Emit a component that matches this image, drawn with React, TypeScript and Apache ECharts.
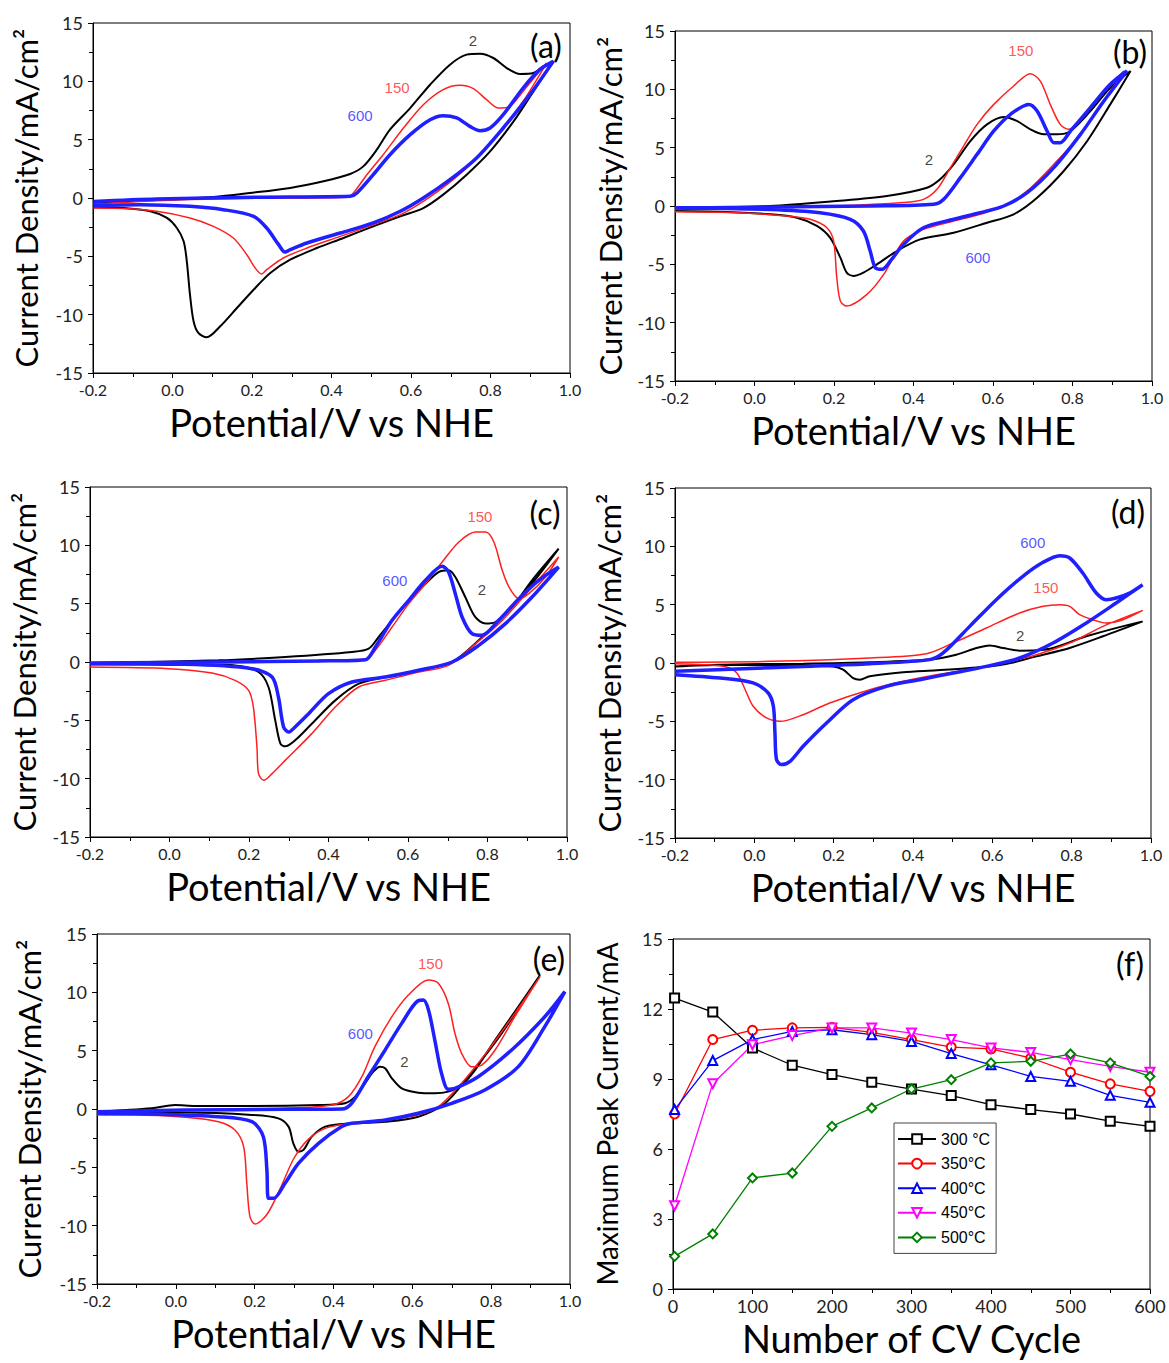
import React, { useEffect, useRef } from "react";
import * as echarts from "echarts";

// ---------- CV loops (potential V vs NHE, current density mA/cm2) ----------
// panel (a)
const a2: number[][] = [[-0.199,-0.43],[-0.04,-0.17],[0.103,0.09],[0.195,0.43],[0.296,0.86],[0.38,1.43],[0.447,2.06],[0.48,2.71],[0.514,4.14],[0.547,5.86],[0.598,7.71],[0.648,9.71],[0.698,11.43],[0.74,12.29],[0.774,12.37],[0.807,12.0],[0.841,11.14],[0.874,10.63],[0.908,10.71],[0.933,11.29],[0.958,11.71],
  [0.908,9.14],[0.858,6.57],[0.799,4.0],[0.74,2.0],[0.681,0.29],[0.631,-0.86],[0.573,-1.57],[0.505,-2.43],[0.43,-3.43],[0.363,-4.29],[0.296,-5.29],[0.246,-6.43],[0.204,-7.86],[0.162,-9.43],[0.12,-11.0],[0.086,-11.94],[0.065,-11.57],[0.053,-10.57],[0.044,-8.29],[0.036,-5.43],[0.028,-3.71],[0.011,-2.57],[-0.014,-1.71],[-0.056,-1.14],[-0.123,-0.86],[-0.199,-0.8]];
const a150: number[][] = [[-0.199,-0.51],[-0.04,-0.23],[0.128,-0.06],[0.296,0.0],[0.438,0.06],[0.455,0.43],[0.489,2.0],[0.53,3.71],[0.581,6.0],[0.631,8.0],[0.681,9.29],[0.723,9.66],[0.757,9.37],[0.79,8.43],[0.82,7.71],[0.849,7.86],[0.882,9.14],[0.916,10.57],[0.941,11.57],
  [0.882,8.29],[0.824,5.71],[0.757,3.14],[0.69,1.14],[0.631,-0.29],[0.573,-1.43],[0.505,-2.29],[0.422,-3.29],[0.338,-4.29],[0.279,-5.14],[0.237,-6.14],[0.224,-6.51],[0.208,-6.0],[0.187,-4.86],[0.153,-3.43],[0.103,-2.43],[0.044,-1.71],[-0.04,-1.14],[-0.123,-0.91],[-0.199,-0.86]];
const a600: number[][] = [[-0.199,-0.29],[-0.04,-0.09],[0.212,0.06],[0.447,0.14],[0.464,0.43],[0.505,2.0],[0.547,3.71],[0.598,5.43],[0.648,6.71],[0.681,7.06],[0.715,6.86],[0.748,6.14],[0.774,5.77],[0.799,6.0],[0.832,7.14],[0.882,9.43],[0.924,11.0],[0.958,11.71],
  [0.899,8.86],[0.832,6.0],[0.765,3.43],[0.698,1.57],[0.631,0.0],[0.573,-1.14],[0.505,-2.14],[0.422,-3.0],[0.338,-3.86],[0.296,-4.43],[0.283,-4.63],[0.267,-4.0],[0.237,-2.57],[0.204,-1.57],[0.128,-1.0],[0.044,-0.71],[-0.081,-0.57],[-0.199,-0.63]];
// panel (b)
const b2: number[][] = [[-0.2,-0.14],[0.039,0.0],[0.207,0.43],[0.333,0.86],[0.434,1.57],[0.467,2.29],[0.501,3.57],[0.543,5.57],[0.585,7.0],[0.627,7.63],[0.66,7.29],[0.694,6.57],[0.728,6.14],[0.761,6.14],[0.795,6.43],[0.845,8.14],[0.895,10.14],[0.946,11.57],
  [0.895,8.71],[0.837,5.57],[0.778,3.0],[0.711,0.71],[0.652,-0.71],[0.585,-1.43],[0.501,-2.29],[0.417,-2.86],[0.358,-3.86],[0.308,-5.0],[0.274,-5.71],[0.249,-6.0],[0.232,-5.71],[0.216,-4.43],[0.19,-2.71],[0.157,-1.71],[0.107,-1.0],[0.039,-0.71],[-0.086,-0.49],[-0.2,-0.43]];
const b150: number[][] = [[-0.2,-0.29],[0.039,-0.09],[0.207,0.0],[0.375,0.29],[0.425,0.57],[0.459,1.43],[0.493,3.29],[0.526,5.14],[0.56,7.0],[0.602,8.71],[0.652,10.29],[0.694,11.34],[0.719,10.71],[0.744,8.71],[0.769,7.0],[0.79,6.57],[0.811,7.0],[0.853,8.71],[0.904,10.71],[0.929,11.57],
  [0.879,9.0],[0.82,6.14],[0.753,3.57],[0.686,1.29],[0.627,0.0],[0.568,-0.71],[0.501,-1.29],[0.425,-2.0],[0.375,-3.0],[0.325,-5.86],[0.283,-7.57],[0.232,-8.57],[0.216,-8.14],[0.207,-6.14],[0.199,-3.0],[0.182,-1.86],[0.14,-1.14],[0.081,-0.86],[-0.044,-0.57],[-0.2,-0.49]];
const b600: number[][] = [[-0.2,-0.2],[0.039,-0.09],[0.291,0.0],[0.451,0.14],[0.476,0.57],[0.518,2.43],[0.56,4.43],[0.602,6.43],[0.644,7.86],[0.69,8.71],[0.711,8.14],[0.736,6.43],[0.753,5.43],[0.769,5.43],[0.795,6.43],[0.845,8.43],[0.895,10.43],[0.937,11.57],
  [0.879,9.0],[0.82,6.14],[0.753,3.29],[0.686,1.14],[0.627,0.0],[0.568,-0.57],[0.501,-1.14],[0.425,-1.86],[0.375,-3.29],[0.342,-4.71],[0.321,-5.43],[0.304,-5.29],[0.291,-3.86],[0.274,-2.14],[0.241,-1.14],[0.165,-0.57],[0.039,-0.29],[-0.2,-0.14]];
// panel (c)
const c2: number[][] = [[-0.2,-0.09],[0.123,0.14],[0.291,0.43],[0.459,0.86],[0.501,1.14],[0.526,2.14],[0.56,3.57],[0.602,5.29],[0.644,6.71],[0.677,7.71],[0.702,7.86],[0.719,7.29],[0.744,5.57],[0.769,3.86],[0.795,3.29],[0.82,3.43],[0.862,4.71],[0.912,7.0],[0.979,9.71],
  [0.912,6.71],[0.845,4.14],[0.778,1.86],[0.711,0.0],[0.627,-0.71],[0.543,-1.29],[0.476,-1.86],[0.417,-3.29],[0.358,-5.29],[0.316,-6.71],[0.291,-7.23],[0.279,-7.0],[0.266,-5.0],[0.249,-2.14],[0.224,-0.86],[0.165,-0.29],[0.039,-0.2],[-0.2,-0.2]];
const c150: number[][] = [[-0.2,-0.14],[0.123,0.0],[0.375,0.14],[0.493,0.23],[0.518,1.0],[0.56,3.0],[0.602,5.0],[0.644,6.71],[0.686,8.57],[0.728,10.29],[0.77,11.14],[0.795,11.14],[0.816,10.29],[0.837,7.86],[0.854,6.43],[0.879,5.43],[0.904,5.86],[0.946,7.29],[0.979,9.0],
  [0.912,6.43],[0.837,3.57],[0.77,1.57],[0.702,-0.29],[0.627,-0.86],[0.543,-1.57],[0.476,-2.14],[0.417,-3.86],[0.358,-6.14],[0.291,-8.43],[0.258,-9.57],[0.237,-10.14],[0.224,-9.57],[0.22,-7.29],[0.211,-3.86],[0.199,-2.43],[0.165,-1.57],[0.107,-0.94],[-0.003,-0.57],[-0.2,-0.43]];
const c600: number[][] = [[-0.2,-0.09],[0.123,0.0],[0.375,0.09],[0.493,0.2],[0.518,1.29],[0.56,3.57],[0.602,5.29],[0.644,7.0],[0.686,8.2],[0.702,7.71],[0.719,5.86],[0.736,3.86],[0.761,2.43],[0.786,2.29],[0.828,3.57],[0.879,5.43],[0.929,7.0],[0.979,8.14],
  [0.912,5.57],[0.845,3.29],[0.778,1.43],[0.711,0.0],[0.627,-0.71],[0.543,-1.29],[0.459,-1.71],[0.4,-2.71],[0.35,-4.43],[0.316,-5.57],[0.3,-6.0],[0.287,-5.57],[0.274,-3.0],[0.258,-1.29],[0.207,-0.57],[0.039,-0.2],[-0.2,-0.14]];
// panel (d)
const d2: number[][] = [[-0.2,-0.29],[-0.086,-0.14],[0.123,-0.06],[0.291,0.06],[0.442,0.29],[0.509,0.71],[0.56,1.29],[0.593,1.51],[0.627,1.29],[0.669,1.06],[0.711,1.09],[0.753,1.29],[0.837,2.29],[0.979,3.57],
  [0.879,2.29],[0.795,1.29],[0.711,0.57],[0.627,-0.14],[0.543,-0.43],[0.459,-0.63],[0.375,-0.8],[0.291,-1.14],[0.266,-1.43],[0.249,-1.29],[0.224,-0.57],[0.199,-0.29],[0.039,-0.2],[-0.086,-0.17],[-0.2,-0.29]];
const d150: number[][] = [[-0.2,0.06],[0.039,0.14],[0.291,0.43],[0.434,0.8],[0.501,1.71],[0.585,3.0],[0.669,4.29],[0.728,4.86],[0.77,5.0],[0.795,4.86],[0.82,4.14],[0.853,3.71],[0.887,3.43],[0.929,3.71],[0.979,4.51],
  [0.879,3.14],[0.795,1.71],[0.711,0.71],[0.627,0.0],[0.543,-0.57],[0.459,-1.0],[0.375,-1.57],[0.291,-2.29],[0.19,-3.43],[0.123,-4.43],[0.065,-5.0],[0.031,-4.71],[-0.003,-3.71],[-0.023,-2.29],[-0.044,-0.86],[-0.07,-0.34],[-0.128,-0.14],[-0.2,-0.06]];
const d600: number[][] = [[-0.2,-0.71],[-0.044,-0.51],[0.123,-0.29],[0.291,-0.06],[0.442,0.29],[0.476,0.86],[0.543,3.14],[0.61,5.43],[0.677,7.43],[0.728,8.63],[0.77,9.2],[0.795,9.0],[0.828,7.71],[0.862,6.0],[0.887,5.43],[0.912,5.57],[0.946,6.0],[0.979,6.71],
  [0.912,5.14],[0.837,3.43],[0.753,1.71],[0.669,0.43],[0.585,-0.29],[0.501,-0.86],[0.417,-1.43],[0.333,-2.0],[0.249,-3.14],[0.182,-5.14],[0.123,-7.14],[0.09,-8.43],[0.069,-8.71],[0.056,-8.29],[0.052,-6.0],[0.048,-3.71],[0.035,-2.57],[-0.003,-1.71],[-0.086,-1.29],[-0.2,-1.0]];
// panel (e)
const e2: number[][] = [[-0.2,-0.23],[-0.061,0.06],[-0.002,0.34],[0.049,0.26],[0.193,0.26],[0.362,0.34],[0.429,0.49],[0.455,1.06],[0.48,2.2],[0.501,3.2],[0.518,3.63],[0.531,3.49],[0.548,2.63],[0.573,1.77],[0.615,1.4],[0.657,1.34],[0.691,1.49],[0.725,2.06],[0.759,3.34],[0.81,5.91],[0.869,8.77],[0.924,11.49],
  [0.869,8.6],[0.81,5.7],[0.742,2.77],[0.683,0.49],[0.615,-0.66],[0.531,-1.09],[0.446,-1.23],[0.379,-1.51],[0.345,-2.37],[0.324,-3.51],[0.311,-3.66],[0.298,-2.94],[0.286,-1.51],[0.26,-0.8],[0.193,-0.51],[0.024,-0.31],[-0.2,-0.31]];
const e150: number[][] = [[-0.2,-0.37],[0.024,-0.09],[0.277,0.06],[0.396,0.34],[0.438,1.06],[0.472,2.77],[0.505,5.34],[0.548,7.91],[0.59,9.77],[0.641,11.06],[0.666,10.77],[0.691,9.06],[0.708,6.49],[0.725,4.77],[0.75,3.63],[0.776,3.77],[0.81,5.06],[0.86,7.91],[0.924,11.34],
  [0.86,8.2],[0.793,5.06],[0.725,2.2],[0.666,0.2],[0.615,-0.51],[0.531,-0.94],[0.446,-1.23],[0.379,-1.66],[0.336,-2.6],[0.3,-4.2],[0.265,-6.8],[0.232,-9.0],[0.201,-9.86],[0.188,-9.23],[0.18,-6.37],[0.172,-3.23],[0.15,-1.8],[0.108,-1.09],[0.024,-0.71],[-0.103,-0.51],[-0.2,-0.51]];
const e600: number[][] = [[-0.2,-0.23],[0.024,-0.09],[0.277,-0.03],[0.421,0.0],[0.446,0.49],[0.488,2.77],[0.531,5.06],[0.573,7.34],[0.615,9.29],[0.628,9.34],[0.641,8.49],[0.657,5.91],[0.674,3.06],[0.691,1.69],[0.708,1.77],[0.767,2.77],[0.852,5.06],[0.936,7.91],[0.987,10.06],
  [0.936,7.06],[0.869,3.63],[0.784,1.63],[0.7,0.49],[0.615,-0.37],[0.531,-0.94],[0.446,-1.23],[0.421,-1.51],[0.362,-2.94],[0.311,-4.66],[0.277,-6.37],[0.248,-7.66],[0.235,-7.66],[0.231,-5.23],[0.222,-2.37],[0.193,-1.09],[0.108,-0.66],[-0.061,-0.43],[-0.2,-0.37]];

// curve labels per panel: [text, potential, current]
const aLabels: [string, number, number][] = [["2", 0.756, 13.54], ["150", 0.565, 9.5], ["600", 0.472, 7.1]];
const bLabels: [string, number, number][] = [["150", 0.67, 13.35], ["2", 0.439, 4.0], ["600", 0.562, -4.4]];
const cLabels: [string, number, number][] = [["150", 0.781, 12.5], ["600", 0.567, 7.0], ["2", 0.786, 6.2]];
const dLabels: [string, number, number][] = [["600", 0.702, 10.37], ["150", 0.735, 6.5], ["2", 0.67, 2.4]];
const eLabels: [string, number, number][] = [["150", 0.646, 12.5], ["600", 0.468, 6.5], ["2", 0.58, 4.1]];

// ---------- panel (f): maximum peak current vs CV cycle ----------
const cycles = [2, 50, 100, 150, 200, 250, 300, 350, 400, 450, 500, 550, 600];
const t300 = [12.47, 11.87, 10.33, 9.59, 9.19, 8.86, 8.57, 8.29, 7.9, 7.69, 7.5, 7.19, 6.97];
const t350 = [7.5, 10.69, 11.09, 11.19, 11.21, 11.0, 10.69, 10.37, 10.29, 9.9, 9.29, 8.79, 8.47];
const t400 = [7.69, 9.79, 10.69, 11.04, 11.11, 10.9, 10.61, 10.09, 9.61, 9.11, 8.9, 8.3, 8.0];
const t450 = [3.57, 8.8, 10.47, 10.86, 11.19, 11.19, 10.97, 10.69, 10.33, 10.14, 9.83, 9.54, 9.29];
const t500 = [1.4, 2.36, 4.76, 4.97, 6.97, 7.76, 8.57, 8.97, 9.69, 9.76, 10.07, 9.69, 9.11];
const tempNames = ["300 °C", "350°C", "400°C", "450°C", "500°C"];

// ---------- layout / style ----------
const GRIDS = [
  { left: 93, top: 23, width: 477, height: 350 },
  { left: 675, top: 31, width: 477, height: 350 },
  { left: 90, top: 487, width: 477, height: 350 },
  { left: 675, top: 488, width: 476, height: 350 },
  { left: 97, top: 934, width: 473, height: 350 },
  { left: 673, top: 939, width: 477, height: 350 },
];
const YNAME_GAP = [52, 50, 51, 51, 53, 52];
const PANEL_TAGS = [
  { t: "(a)", x: 546, y: 45 },
  { t: "(b)", x: 1130, y: 51 },
  { t: "(c)", x: 545, y: 512 },
  { t: "(d)", x: 1128, y: 511 },
  { t: "(e)", x: 549, y: 958 },
  { t: "(f)", x: 1130, y: 963 },
];
const CV_STYLE = [
  { color: "#000000", width: 2 },
  { color: "#ff1f1f", width: 1.5 },
  { color: "#1f1fff", width: 3.5 },
];
const TEMP_STYLE = [
  { color: "#000000", symbol: "emptyRect", rotate: 0 },
  { color: "#ff0000", symbol: "emptyCircle", rotate: 0 },
  { color: "#0000ff", symbol: "emptyTriangle", rotate: 0 },
  { color: "#ff00ff", symbol: "emptyTriangle", rotate: 180 },
  { color: "#008000", symbol: "emptyDiamond", rotate: 0 },
];
const FONT = "Lato";

const axisCommon = (gi: number) => ({
  gridIndex: gi,
  type: "value",
  axisLine: { show: true, onZero: false, lineStyle: { color: "#000", width: 1 } },
  axisTick: { show: true, length: 5, lineStyle: { color: "#000" } },
  minorTick: { show: true, splitNumber: 2, length: 4, lineStyle: { color: "#000" } },
  splitLine: { show: false },
  minorSplitLine: { show: false },
});

export default function App() {
  const ref = useRef<HTMLDivElement>(null);
  useEffect(() => {
    if (!ref.current) return;
    const chart = echarts.init(ref.current, null, { renderer: "svg" });
    const cvSets = [
      [a2, a150, a600],
      [b2, b150, b600],
      [c2, c150, c600],
      [d2, d150, d600],
      [e2, e150, e600],
    ];
    const labelSets = [aLabels, bLabels, cLabels, dLabels, eLabels];
    const labelColor: Record<string, string> = { "2": "#111", "150": "#ff2a2a", "600": "#2a2aff" };

    const grid = GRIDS.map((g) => ({ ...g, show: true, borderColor: "#000", borderWidth: 1, containLabel: false }));
    const xAxis: any[] = [];
    const yAxis: any[] = [];
    const series: any[] = [];

    for (let i = 0; i < 5; i++) {
      xAxis.push({
        ...axisCommon(i),
        min: -0.2,
        max: 1.0,
        interval: 0.2,
        axisLabel: {
          fontFamily: FONT, fontSize: 16, color: "#222", margin: 8,
          formatter: (v: number) => (Math.abs(v) < 1e-9 ? "0.0" : v.toFixed(1)),
        },
        name: "Potential/V vs NHE",
        nameLocation: "middle",
        nameGap: 30,
        nameTextStyle: { fontFamily: FONT, fontSize: 38, color: "#000" },
      });
      yAxis.push({
        ...axisCommon(i),
        min: -15,
        max: 15,
        interval: 5,
        axisLabel: { fontFamily: FONT, fontSize: 18, color: "#222", margin: 10 },
        name: "Current Density/mA/cm²",
        nameLocation: "middle",
        nameGap: YNAME_GAP[i],
        nameTextStyle: { fontFamily: FONT, fontSize: 31, color: "#000" },
      });
      cvSets[i].forEach((d, k) => {
        series.push({
          type: "line",
          xAxisIndex: i,
          yAxisIndex: i,
          data: d,
          showSymbol: false,
          smooth: 0.3,
          lineStyle: { color: CV_STYLE[k].color, width: CV_STYLE[k].width },
          itemStyle: { color: CV_STYLE[k].color },
          silent: true,
          z: 2 + k,
        });
      });
      series.push({
        type: "scatter",
        xAxisIndex: i,
        yAxisIndex: i,
        symbolSize: 0,
        silent: true,
        z: 10,
        data: labelSets[i].map(([t, x, y]) => ({
          name: t,
          value: [x, y],
          label: { color: labelColor[t] },
        })),
        label: {
          show: true,
          position: "inside",
          formatter: "{b}",
          fontFamily: "Liberation Sans",
          fontSize: 15,
        },
      });
    }

    // panel (f)
    xAxis.push({
      ...axisCommon(5),
      min: 0,
      max: 600,
      interval: 100,
      axisLabel: { fontFamily: FONT, fontSize: 18, color: "#222", margin: 8 },
      name: "Number of CV Cycle",
      nameLocation: "middle",
      nameGap: 30,
      nameTextStyle: { fontFamily: FONT, fontSize: 38, color: "#000" },
    });
    yAxis.push({
      ...axisCommon(5),
      min: 0,
      max: 15,
      interval: 3,
      axisLabel: { fontFamily: FONT, fontSize: 18, color: "#222", margin: 10 },
      name: "Maximum Peak Current/mA",
      nameLocation: "middle",
      nameGap: YNAME_GAP[5],
      nameTextStyle: { fontFamily: FONT, fontSize: 28, color: "#000" },
    });
    [t300, t350, t400, t450, t500].forEach((vals, k) => {
      series.push({
        name: tempNames[k],
        type: "line",
        xAxisIndex: 5,
        yAxisIndex: 5,
        data: cycles.map((c, j) => [c, vals[j]]),
        symbol: TEMP_STYLE[k].symbol,
        symbolRotate: TEMP_STYLE[k].rotate,
        symbolSize: 9,
        showSymbol: true,
        lineStyle: { color: TEMP_STYLE[k].color, width: 1.3 },
        itemStyle: { color: TEMP_STYLE[k].color, borderWidth: 1 },
        z: 3,
      });
    });

    chart.setOption({
      animation: false,
      backgroundColor: "#fff",
      grid,
      xAxis,
      yAxis,
      series,
      legend: {
        data: tempNames,
        orient: "vertical",
        left: 894,
        top: 1123,
        padding: [8, 6, 8, 3],
        itemWidth: 38,
        itemHeight: 12,
        itemGap: 8.6,
        backgroundColor: "#fff",
        borderColor: "#444",
        borderWidth: 1,
        borderRadius: 0,
        textStyle: { fontFamily: "Liberation Sans", fontSize: 16, color: "#000" },
      },
      graphic: PANEL_TAGS.map((p) => ({
        type: "text",
        x: p.x,
        y: p.y,
        z: 20,
        style: {
          text: p.t,
          fontFamily: FONT,
          fontSize: 32,
          fill: "#000",
          textAlign: "center",
          textVerticalAlign: "middle",
        },
      })),
    });
    return () => chart.dispose();
  }, []);
  return (
    <div
      ref={ref}
      style={{ position: "absolute", left: 0, top: 0, width: 1169, height: 1363, background: "#fff" }}
    />
  );
}
